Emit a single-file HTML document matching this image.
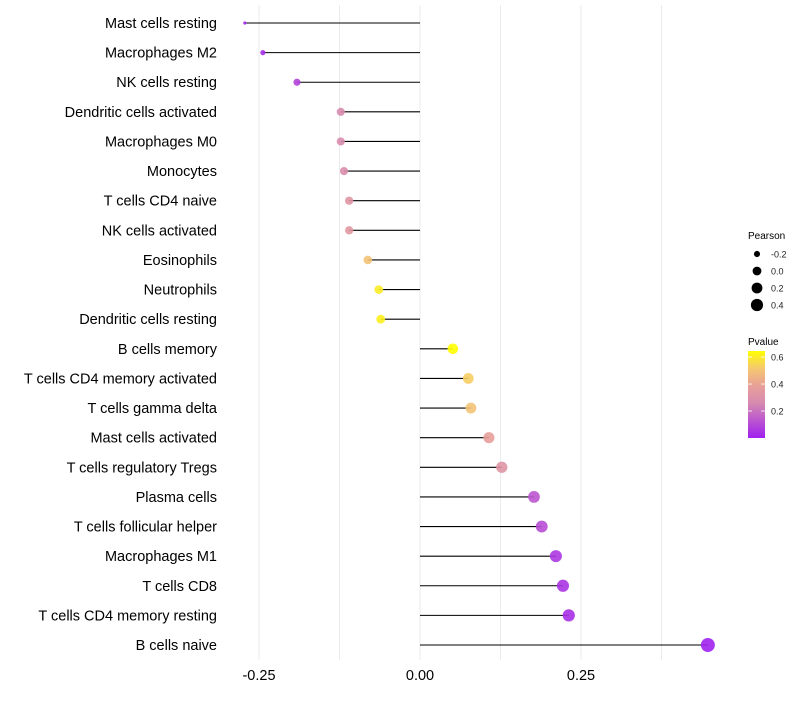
<!DOCTYPE html>
<html><head><meta charset="utf-8"><style>
html,body{margin:0;padding:0;background:#fff;}
svg text{font-family:"Liberation Sans",sans-serif;}
</style></head><body>
<svg id="chart" width="800" height="700" viewBox="0 0 800 700" xmlns="http://www.w3.org/2000/svg">
<defs>
<linearGradient id="pgrad" x1="0" y1="1" x2="0" y2="0">
<stop offset="0" stop-color="#A020F0"/>
<stop offset="0.4" stop-color="#D68AB0"/>
<stop offset="0.6" stop-color="#E8A098"/>
<stop offset="0.8" stop-color="#F5C870"/>
<stop offset="1" stop-color="#FFFF00"/>
</linearGradient>
</defs>
<g id="grid"></g>
<g id="marks"></g>
<g id="ylabels"></g>
<g id="xlabels"></g>
<g>
<text x="748" y="239" font-size="10" fill="#000">Pearson</text>
<g id="sizeLegend"></g>
</g>
<g>
<text x="748" y="345" font-size="10" fill="#000">Pvalue</text>
<rect x="748" y="351" width="17" height="87" fill="url(#pgrad)"/>
<g id="colorTicks"></g>
</g>
</svg>
<script>
const categories=["Mast cells resting","Macrophages M2","NK cells resting","Dendritic cells activated","Macrophages M0","Monocytes","T cells CD4 naive","NK cells activated","Eosinophils","Neutrophils","Dendritic cells resting","B cells memory","T cells CD4 memory activated","T cells gamma delta","Mast cells activated","T cells regulatory  Tregs","Plasma cells","T cells follicular helper","Macrophages M1","T cells CD8","T cells CD4 memory resting","B cells naive"];
const pearson=[-0.272,-0.244,-0.191,-0.123,-0.123,-0.118,-0.110,-0.110,-0.081,-0.064,-0.061,0.051,0.075,0.079,0.107,0.127,0.177,0.189,0.211,0.222,0.231,0.447];
const pvalue=[0.02,0.04,0.08,0.27,0.27,0.28,0.33,0.34,0.50,0.60,0.61,0.66,0.53,0.50,0.38,0.32,0.13,0.11,0.06,0.05,0.04,0.005];
const xTicks=[-0.25,0,0.25];
const xTickLabels=["-0.25","0.00","0.25"];
const gridVals=[-0.25,-0.125,0,0.125,0.25,0.375];
const sizeLegendVals=[-0.2,0,0.2,0.4];
const sizeLegendLabels=["-0.2","0.0","0.2","0.4"];
const colorTickVals=[0.2,0.4,0.6];

const NS="http://www.w3.org/2000/svg";
const xs=v=>420+v*644;
const ys=i=>23+i*(622/21);
const sizeKnots=[[-0.3,1.2],[-0.272,1.6],[-0.244,2.6],[-0.19,3.6],[-0.12,4.1],[-0.06,4.4],[0.05,5.3],[0.2,6.0],[0.45,7.0],[0.6,7.5]];
function rs(v){for(let k=0;k<sizeKnots.length-1;k++){const a=sizeKnots[k],b=sizeKnots[k+1];if(v<=b[0]){const t=Math.max(0,(v-a[0])/(b[0]-a[0]));return a[1]+(b[1]-a[1])*t;}}return 7.5;}
const pTop=0.645;
const py=p=>438-p/pTop*87;
const stops=[[0,[160,32,240]],[0.4,[214,138,176]],[0.6,[232,160,152]],[0.8,[245,200,112]],[1,[255,255,0]]];
function col(p){let t=Math.min(1,Math.max(0,p/pTop));for(let k=0;k<stops.length-1;k++){if(t<=stops[k+1][0]){const u=(t-stops[k][0])/(stops[k+1][0]-stops[k][0]);const c=stops[k][1].map((x,j)=>Math.round(x+(stops[k+1][1][j]-x)*u));return `rgb(${c})`;}}return "rgb(255,255,0)";}
function mk(tag,attrs,parent){const e=document.createElementNS(NS,tag);for(const k in attrs)e.setAttribute(k,attrs[k]);parent.appendChild(e);return e;}

const grid=document.getElementById('grid');
gridVals.forEach(v=>{
  const l=mk('line',{x1:xs(v),x2:xs(v),y1:5,y2:660,stroke:'#ebebeb','stroke-width':1},grid);
  
  
});
const marks=document.getElementById('marks');
const yl=document.getElementById('ylabels');
categories.forEach((c,i)=>{
  const y=ys(i);
  const s=mk('line',{x1:xs(0),x2:xs(pearson[i]),y1:y,y2:y,stroke:'#000','stroke-width':1.1},marks);
  
  
  const d=mk('circle',{cx:xs(pearson[i]),cy:y,r:rs(pearson[i]),fill:col(pvalue[i]),opacity:0.9},marks);
  
  
  const t=mk('text',{x:217,y:y+5,'text-anchor':'end','font-size':14.5,fill:'#000'},yl);
  t.textContent=c;
  
  
});
const xl=document.getElementById('xlabels');
xTicks.forEach((v,i)=>{
  const t=mk('text',{x:xs(v),y:680,'text-anchor':'middle','font-size':14.5,fill:'#000'},xl);
  t.textContent=xTickLabels[i];
  
  
});
const sl=document.getElementById('sizeLegend');
sizeLegendVals.forEach((v,i)=>{
  const y=254+i*17;
  const c=mk('circle',{cx:757,cy:y,r:rs(v)*0.9,fill:'#000'},sl);
  
  
  const t=mk('text',{x:771,y:y+3.5,'font-size':9,fill:'#222'},sl);
  t.textContent=sizeLegendLabels[i];
  
  
});
const ct=document.getElementById('colorTicks');
colorTickVals.forEach(v=>{
  const y=py(v);
  const l1=mk('line',{x1:748,x2:752,y1:y,y2:y,stroke:'#fff','stroke-width':0.8},ct);
  
  
  const l2=mk('line',{x1:761,x2:765,y1:y,y2:y,stroke:'#fff','stroke-width':0.8},ct);
  
  
  const t=mk('text',{x:771,y:y+3.5,'font-size':9,fill:'#222'},ct);
  t.textContent=v.toFixed(1);
  
  
});
</script>
</body></html>
